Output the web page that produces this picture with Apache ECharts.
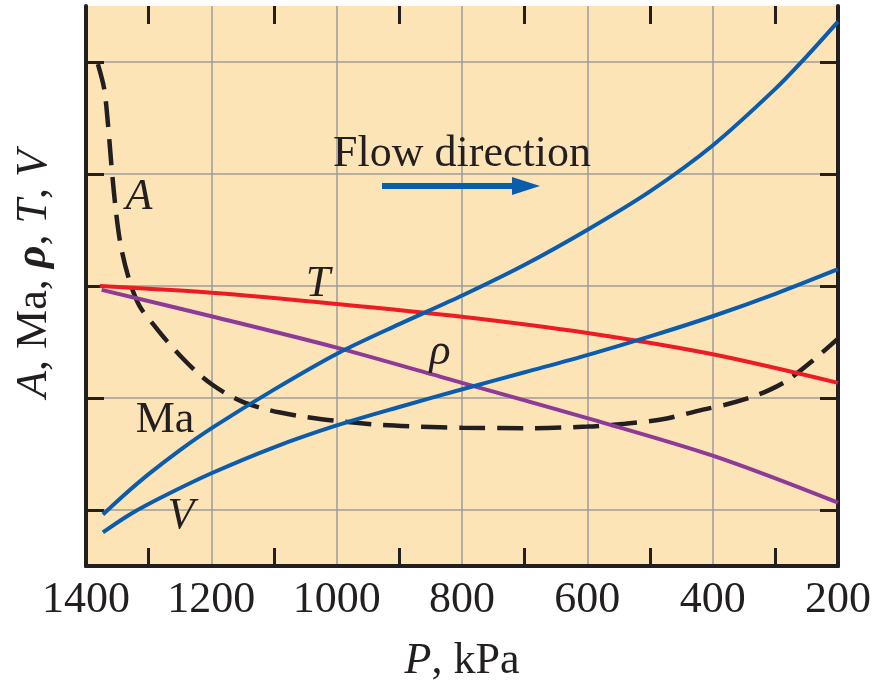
<!DOCTYPE html>
<html><head><meta charset="utf-8">
<script src="https://cdn.jsdelivr.net/npm/echarts@6/dist/echarts.min.js"></script>
<style>html,body{margin:0;padding:0;background:#fff}#chart{width:877px;height:688px}</style>
</head><body><div id="chart"></div>
<script>
// Tick labels / tick positions
const xTickLabels = [1400, 1200, 1000, 800, 600, 400, 200];
const xMinorTicks = [1300, 1100, 900, 700, 500, 300];
const yMinorTicks = [1, 3, 5, 7, 9];

// Area A (dashed)
const pA   = [1381, 1371, 1365, 1359, 1352, 1344, 1330, 1314, 1290, 1271, 1245, 1223, 1200, 1175, 1150, 1120, 1090, 1060, 1000, 930, 870, 800, 700, 600, 540, 480, 420, 380, 340, 310, 280, 240, 200];
const valA = [8.96, 8.52, 7.90, 7.10, 6.31, 5.69, 5.07, 4.63, 4.28, 4.02, 3.70, 3.46, 3.25, 3.07, 2.93, 2.82, 2.74, 2.68, 2.59, 2.52, 2.49, 2.47, 2.46, 2.49, 2.54, 2.62, 2.78, 2.88, 3.01, 3.14, 3.32, 3.67, 4.06];

// Mach number Ma
const pMa   = [1373, 1340, 1300, 1250, 1197, 1100, 998, 900, 798, 700, 599, 500, 400, 300, 250, 200];
const valMa = [0.92, 1.26, 1.64, 2.07, 2.48, 3.15, 3.80, 4.32, 4.84, 5.38, 6.01, 6.69, 7.51, 8.52, 9.10, 9.72];

// Velocity V
const pV   = [1373, 1330, 1277, 1199, 1100, 1000, 900, 798, 700, 596, 500, 400, 300, 200];
const valV = [0.60, 0.92, 1.24, 1.66, 2.12, 2.51, 2.84, 3.16, 3.46, 3.78, 4.10, 4.46, 4.86, 5.30];

// Temperature T
const pT   = [1378, 1200, 1000, 800, 600, 400, 200];
const valT = [5.00, 4.88, 4.68, 4.45, 4.16, 3.78, 3.27];

// Density rho
const pRho   = [1375, 1200, 1000, 800, 600, 400, 200];
const valRho = [4.93, 4.46, 3.90, 3.27, 2.64, 1.97, 1.13];

const zip = (xs, ys) => xs.map((x, i) => [x, ys[i]]);

const INK = '#231f20';
const BLUE = '#0b5cad';
const RED = '#ed1c24';
const PURPLE = '#8d3b97';
const SERIF = '"Liberation Serif", "DejaVu Serif", serif';
const TICK_LEN = 18;

const chart = echarts.init(document.getElementById('chart'), null, {renderer: 'canvas'});

const xBase = {
  type: 'value', min: 200, max: 1400, interval: 200, inverse: true,
  axisLine: {show: true, lineStyle: {color: INK, width: 4}},
  axisTick: {show: false},
  axisLabel: {show: false},
  splitLine: {show: false}
};
// tick-only x axes, pushed inside the frame so their outward ticks end on the frame
const xTickAxis = (position) => ({
  type: 'value', min: 200, max: 1400, interval: 200, inverse: true,
  position, offset: -TICK_LEN,
  axisLine: {show: false},
  axisLabel: {show: false},
  splitLine: {show: false},
  axisTick: {show: true, inside: false, length: TICK_LEN, customValues: xMinorTicks,
    lineStyle: {color: INK, width: 3}}
});
const yBase = {
  type: 'value', min: 0, max: 10, interval: 2,
  axisLine: {show: true, lineStyle: {color: INK, width: 4}},
  axisLabel: {show: false},
};
const tickStyle = {show: true, inside: true, length: TICK_LEN, lineStyle: {color: INK, width: 3}};

const lineSeries = (name, data, color, dashed) => ({
  name, type: 'line', data, showSymbol: false, smooth: 0.3,
  lineStyle: {color, width: dashed ? 4.5 : 4, type: dashed ? [26, 12] : 'solid', cap: 'butt'},
  z: dashed ? 3 : 4, silent: true
});

chart.setOption({
  animation: false,
  backgroundColor: '#ffffff',
  grid: {left: 86, right: 39, top: 6, bottom: 116, show: true, backgroundColor: '#FDE4B7', borderWidth: 0},
  xAxis: [
    Object.assign({}, xBase, {
      position: 'bottom',
      name: '{i|P}, kPa', nameLocation: 'middle', nameGap: 73,
      nameTextStyle: {fontFamily: SERIF, fontSize: 44, color: INK,
        rich: {i: {fontFamily: SERIF, fontSize: 44, fontStyle: 'italic', color: INK}}},
      axisLabel: {show: true, fontFamily: SERIF, fontSize: 44, color: INK, margin: 12,
        customValues: xTickLabels, formatter: v => String(v)},
      splitLine: {show: true, lineStyle: {color: '#9b9b9b', width: 1.5}}
    }),
    Object.assign({}, xBase, {position: 'top'}),
    xTickAxis('bottom'),
    xTickAxis('top')
  ],
  yAxis: [
    Object.assign({}, yBase, {
      position: 'left',
      name: '{i|A}, Ma, {b|ρ}, {i|T}, {i|V}', nameLocation: 'middle', nameGap: 30, nameRotate: 90,
      nameTextStyle: {fontFamily: SERIF, fontSize: 44, color: INK, padding: [0, 0, 0, 24],
        rich: {
          i: {fontFamily: SERIF, fontSize: 44, fontStyle: 'italic', color: INK},
          b: {fontFamily: SERIF, fontSize: 44, fontStyle: 'italic', fontWeight: 'bold', color: INK}
        }},
      axisTick: Object.assign({}, tickStyle, {customValues: yMinorTicks}),
      splitLine: {show: true, lineStyle: {color: '#9b9b9b', width: 1.5}}
    }),
    Object.assign({}, yBase, {
      position: 'right',
      axisTick: Object.assign({}, tickStyle, {customValues: yMinorTicks}),
      splitLine: {show: false}
    })
  ],
  series: [
    lineSeries('A', zip(pA, valA), INK, true),
    lineSeries('T', zip(pT, valT), RED, false),
    lineSeries('ρ', zip(pRho, valRho), PURPLE, false),
    lineSeries('Ma', zip(pMa, valMa), BLUE, false),
    lineSeries('V', zip(pV, valV), BLUE, false)
  ],
  graphic: [
    {type: 'text', x: 462, y: 154, z: 10, style: {text: 'Flow direction', font: '44px ' + SERIF, fill: INK, align: 'center', verticalAlign: 'middle'}},
    {type: 'rect', z: 10, shape: {x: 382, y: 183, width: 134, height: 6}, style: {fill: BLUE}},
    {type: 'polygon', z: 10, shape: {points: [[512, 177], [540, 186], [512, 195]]}, style: {fill: BLUE}},
    {type: 'text', x: 139, y: 197, z: 10, style: {text: 'A', font: 'italic 44px ' + SERIF, fill: INK, align: 'center', verticalAlign: 'middle'}},
    {type: 'text', x: 318, y: 284, z: 10, style: {text: 'T', font: 'italic 44px ' + SERIF, fill: INK, align: 'center', verticalAlign: 'middle'}},
    {type: 'text', x: 440, y: 352, z: 10, style: {text: 'ρ', font: 'italic 44px ' + SERIF, fill: INK, align: 'center', verticalAlign: 'middle'}},
    {type: 'text', x: 165, y: 420, z: 10, style: {text: 'Ma', font: '44px ' + SERIF, fill: INK, align: 'center', verticalAlign: 'middle'}},
    {type: 'text', x: 181, y: 516, z: 10, style: {text: 'V', font: 'italic 44px ' + SERIF, fill: INK, align: 'center', verticalAlign: 'middle'}}
  ]
});
</script>
</body></html>
